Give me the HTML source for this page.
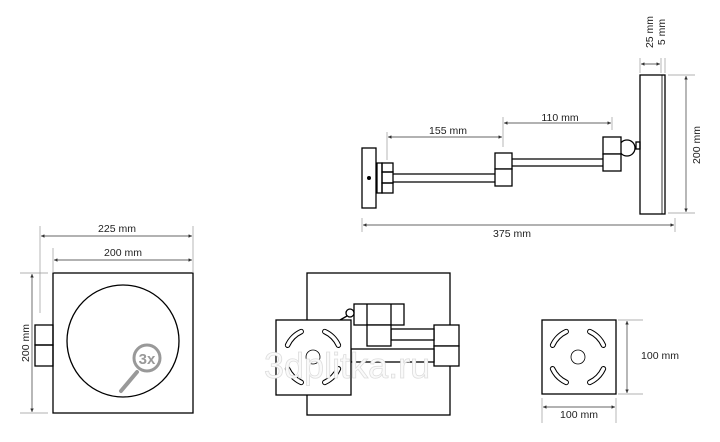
<!DOCTYPE html><html><head><meta charset="utf-8"><style>body{margin:0;background:#fff}svg{display:block}text{font-family:"Liberation Sans",sans-serif;font-size:10.5px;fill:#222}</style></head><body>
<svg width="720" height="442" viewBox="0 0 720 442" xmlns="http://www.w3.org/2000/svg">
<defs><marker id="a" viewBox="0 0 6 6" refX="6" refY="3" markerWidth="5" markerHeight="5" orient="auto-start-reverse"><path d="M0,0L6,3L0,6z" fill="#333"/></marker></defs>
<g fill="none" stroke="#000" stroke-width="1.3">
<rect x="640" y="75" width="25" height="139" fill="#fff"/><line x1="662" y1="75" x2="662" y2="214" stroke-width="0.8"/>
<circle cx="627" cy="148" r="8" fill="#fff"/><rect x="636" y="142" width="4" height="7"/>
<rect x="603" y="137" width="18" height="17" fill="#fff"/><rect x="603" y="154" width="18" height="17" fill="#fff"/>
<line x1="512" y1="159" x2="603" y2="159"/><line x1="512" y1="166" x2="603" y2="166"/>
<rect x="495" y="153" width="17" height="16" fill="#fff"/><rect x="495" y="169" width="17" height="17" fill="#fff"/>
<line x1="393" y1="174" x2="495" y2="174"/><line x1="393" y1="182" x2="495" y2="182"/>
<rect x="377" y="163" width="5" height="30"/><rect x="382" y="163" width="11" height="9"/><rect x="382" y="172" width="11" height="11"/><rect x="382" y="183" width="11" height="10"/>
<rect x="362" y="148" width="14" height="60" fill="#fff"/>
<rect x="53" y="273" width="140" height="140"/><circle cx="123" cy="341" r="56"/>
<rect x="35" y="325" width="18" height="20"/><rect x="35" y="345" width="18" height="21"/>
<rect x="307" y="273" width="143" height="142"/>
<rect x="434" y="325" width="25" height="21" fill="#fff"/><rect x="434" y="346" width="25" height="20" fill="#fff"/>
<rect x="351" y="349" width="83" height="13" fill="#fff"/>
<rect x="391" y="329" width="43" height="11" fill="#fff"/>
<rect x="354" y="304" width="50" height="21" fill="#fff"/><line x1="367" y1="304" x2="367" y2="325"/><line x1="391" y1="304" x2="391" y2="325"/>
<rect x="367" y="325" width="24" height="21" fill="#fff"/>
<circle cx="350" cy="313" r="4" fill="#fff"/><line x1="340" y1="320" x2="347" y2="316"/>
<rect x="276" y="320" width="75" height="75" fill="#fff"/>
<rect x="542" y="320" width="74" height="74"/>
</g>
<circle cx="369" cy="178" r="2" fill="#000"/>
<g fill="none" stroke="#000" stroke-width="0.8">
<g transform="translate(313,357)"><circle r="7"/><g id="s"><path d="M-25.4,-11.8 A28,28 0 0 1 -11.8,-25.4" stroke-width="5.5" stroke-linecap="round"/><path d="M-25.4,-11.8 A28,28 0 0 1 -11.8,-25.4" stroke="#fff" stroke-width="3.5" stroke-linecap="round"/></g><use href="#s" transform="rotate(90)"/><use href="#s" transform="rotate(180)"/><use href="#s" transform="rotate(270)"/></g>
<g transform="translate(578,357)"><circle r="7"/><use href="#s"/><use href="#s" transform="rotate(90)"/><use href="#s" transform="rotate(180)"/><use href="#s" transform="rotate(270)"/></g>
</g>
<g stroke="#999" fill="none"><circle cx="147" cy="358" r="13" stroke-width="3"/><line x1="121" y1="391" x2="137" y2="372" stroke-width="4" stroke-linecap="round"/></g>
<text x="147" y="364" text-anchor="middle" style="font-size:15px;fill:#999;font-weight:bold">3x</text>
<text x="264" y="378" style="font-size:36px;fill:#fafafa;stroke:#ddd;stroke-width:0.8">3dplitka.ru</text>
<g stroke="#999" stroke-width="0.7">
<line x1="640" y1="58" x2="640" y2="73"/><line x1="661" y1="58" x2="661" y2="73"/><line x1="665" y1="58" x2="665" y2="73"/>
<line x1="668" y1="75" x2="695" y2="75"/><line x1="668" y1="213" x2="695" y2="213"/>
<line x1="387" y1="132" x2="387" y2="160"/><line x1="503" y1="117" x2="503" y2="147"/><line x1="612" y1="117" x2="612" y2="130"/>
<line x1="362" y1="218" x2="362" y2="232"/><line x1="675" y1="218" x2="675" y2="232"/>
<line x1="40" y1="226" x2="40" y2="313"/><line x1="193" y1="226" x2="193" y2="273"/><line x1="53" y1="248" x2="53" y2="273"/>
<line x1="20" y1="273" x2="48" y2="273"/><line x1="20" y1="413" x2="48" y2="413"/>
<line x1="618" y1="320" x2="643" y2="320"/><line x1="618" y1="394" x2="643" y2="394"/>
<line x1="542" y1="398" x2="542" y2="423"/><line x1="616" y1="398" x2="616" y2="423"/>
</g>
<g stroke="#333" stroke-width="0.7" marker-start="url(#a)" marker-end="url(#a)">
<line x1="641" y1="64" x2="660" y2="64"/>
<line x1="686" y1="76" x2="686" y2="212"/>
<line x1="388" y1="137" x2="502" y2="137"/>
<line x1="504" y1="123" x2="611" y2="123"/>
<line x1="363" y1="225" x2="674" y2="225"/>
<line x1="41" y1="236" x2="192" y2="236"/>
<line x1="54" y1="260" x2="192" y2="260"/>
<line x1="32" y1="274" x2="32" y2="412"/>
<line x1="627" y1="321" x2="627" y2="393"/>
<line x1="543" y1="407" x2="615" y2="407"/>
</g>
<text x="448" y="134" text-anchor="middle">155 mm</text>
<text x="560" y="121" text-anchor="middle">110 mm</text>
<text x="512" y="237" text-anchor="middle">375 mm</text>
<text transform="translate(653,32) rotate(-90)" text-anchor="middle">25 mm</text>
<text transform="translate(665,32) rotate(-90)" text-anchor="middle">5 mm</text>
<text transform="translate(700,145) rotate(-90)" text-anchor="middle">200 mm</text>
<text x="117" y="232" text-anchor="middle">225 mm</text>
<text x="123" y="256" text-anchor="middle">200 mm</text>
<text transform="translate(29,343) rotate(-90)" text-anchor="middle">200 mm</text>
<text x="660" y="359" text-anchor="middle">100 mm</text>
<text x="579" y="418" text-anchor="middle">100 mm</text>
</svg></body></html>
